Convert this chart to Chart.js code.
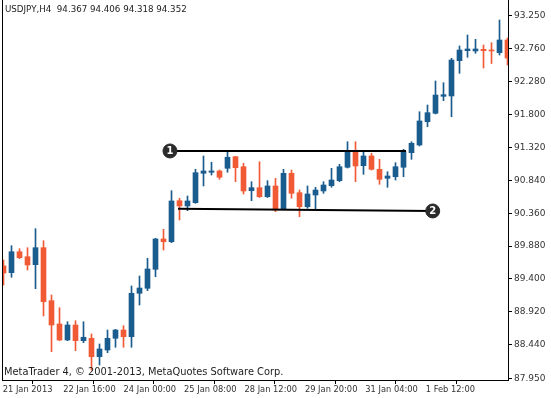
<!DOCTYPE html>
<html>
<head>
<meta charset="utf-8">
<title>USDJPY,H4</title>
<script src="https://cdn.jsdelivr.net/npm/chart.js@4.4.0/dist/chart.umd.min.js"></script>
<style>
  html, body { margin: 0; padding: 0; background: #fff; }
  #chart { display: block; }
</style>
</head>
<body>
<canvas id="chart" width="551" height="398"></canvas>
<script>
// H4 candles (one entry per bar, left to right)
const opens = [
  89.590, 89.492, 89.798, 89.725, 89.609, 89.857, 89.083, 88.743, 88.509, 88.728,
  88.499, 88.534, 88.265, 88.363, 88.534, 88.655, 88.557, 89.191, 89.264, 89.541,
  89.984, 89.944, 90.543, 90.466, 90.514, 90.943, 90.958, 90.977, 91.016, 91.185,
  91.039, 90.689, 90.733, 90.601, 90.758, 90.417, 90.943, 90.660, 90.455, 90.626,
  90.685, 90.762, 90.835, 91.031, 91.258, 91.054, 91.196, 91.001, 90.870, 90.893,
  91.031, 91.244, 91.356, 91.696, 91.819, 92.067, 92.072, 92.587, 92.733, 92.729,
  92.753, 92.743, 92.704, 92.889
]
const highs = [
  89.677, 89.886, 89.842, 89.857, 90.134, 89.959, 89.166, 88.981, 88.776, 88.791,
  88.776, 88.597, 88.451, 88.655, 88.665, 88.718, 89.298, 89.444, 89.702, 89.994,
  90.125, 90.689, 90.578, 90.612, 91.001, 91.196, 91.104, 90.991, 91.254, 91.190,
  91.089, 90.820, 91.112, 90.835, 90.870, 91.001, 90.991, 90.699, 90.758, 90.739,
  90.820, 91.016, 91.074, 91.404, 91.404, 91.258, 91.235, 91.147, 90.966, 91.098,
  91.293, 91.404, 91.842, 91.940, 92.291, 92.266, 92.622, 92.802, 92.962, 92.899,
  92.816, 92.850, 93.181, 92.918
]
const lows = [
  89.312, 89.425, 89.696, 89.531, 89.258, 88.860, 88.338, 88.499, 88.499, 88.353,
  88.470, 88.071, 88.144, 88.324, 88.403, 88.403, 88.403, 89.020, 89.229, 89.433,
  89.823, 89.930, 90.261, 90.397, 90.505, 90.758, 90.918, 90.855, 90.958, 90.820,
  90.641, 90.543, 90.590, 90.590, 90.382, 90.410, 90.578, 90.309, 90.432, 90.407,
  90.651, 90.739, 90.820, 91.020, 90.820, 90.928, 90.991, 90.782, 90.739, 90.845,
  90.893, 91.147, 91.342, 91.623, 91.809, 92.003, 91.769, 92.403, 92.637, 92.695,
  92.480, 92.546, 92.670, 92.524
]
const closes = [
  89.487, 89.798, 89.711, 89.604, 89.857, 89.068, 88.728, 88.509, 88.728, 88.499,
  88.549, 88.265, 88.378, 88.534, 88.655, 88.557, 89.191, 89.268, 89.546, 89.984,
  89.944, 90.539, 90.466, 90.539, 90.952, 90.977, 90.977, 90.885, 91.177, 91.025,
  90.685, 90.733, 90.601, 90.758, 90.407, 90.943, 90.651, 90.455, 90.641, 90.699,
  90.772, 90.845, 91.039, 91.258, 91.050, 91.196, 91.001, 90.855, 90.904, 91.039,
  91.258, 91.381, 91.707, 91.828, 92.086, 92.091, 92.597, 92.743, 92.758, 92.758,
  92.733, 92.729, 92.889, 92.626
]

const timeLabels = ["21 Jan 2013", "22 Jan 16:00", "24 Jan 00:00", "25 Jan 08:00",
  "28 Jan 12:00", "29 Jan 20:00", "31 Jan 04:00", "1 Feb 12:00"]
const priceTicks = [87.95, 88.44, 88.92, 89.40, 89.88, 90.36, 90.84, 91.32, 91.80, 92.28, 92.76, 93.25]

// the two hand drawn levels: [bar, price] at each end
const levelOne = [[20.81, 91.269], [50.31, 91.269]]
const levelTwo = [[21.81, 90.426], [53.65, 90.393]]

const headerText = "USDJPY,H4  94.367 94.406 94.318 94.352"
const footerText = "MetaTrader 4, \u00a9 2001-2013, MetaQuotes Software Corp."

const BULL = '#1b5c8f'
const BEAR = '#f05a35'
const FONT_FAMILY = '"DejaVu Sans", Tahoma, sans-serif'

function candleColors() {
  return opens.map((o, i) => closes[i] >= o ? BULL : BEAR)
}

function wickData() {
  return opens.map((o, i) => ({ x: i, y: [lows[i], highs[i]] }))
}

function bodyData() {
  return opens.map((o, i) => ({ x: i, y: [Math.min(o, closes[i]), Math.max(o, closes[i])] }))
}

function levelData(level) {
  return level.map(p => ({ x: p[0], y: p[1] }))
}

// header, footer, left frame edge and the level numbers
const overlayPlugin = {
  id: 'overlay',
  afterDraw(chart) {
    const ctx = chart.ctx
    const area = chart.chartArea
    ctx.save()

    ctx.strokeStyle = '#000'
    ctx.lineWidth = 1
    ctx.beginPath()
    ctx.moveTo(area.left + 0.5, 0)
    ctx.lineTo(area.left + 0.5, area.bottom)
    ctx.moveTo(area.right + 0.5, 0)
    ctx.lineTo(area.right + 0.5, area.top)
    ctx.stroke()

    ctx.fillStyle = '#222'
    ctx.textBaseline = 'middle'
    ctx.textAlign = 'left'
    ctx.font = '8.7px ' + FONT_FAMILY
    ctx.fillText(headerText, area.left + 3, area.top + 8)
    ctx.font = '9.85px ' + FONT_FAMILY
    ctx.fillText(footerText, area.left + 2, area.bottom - 8)

    // numbers inside the circles
    ctx.font = 'bold 10px ' + FONT_FAMILY
    ctx.fillStyle = '#fff'
    ctx.textAlign = 'center'
    const markers = [[2, 0, '1'], [3, 1, '2']]
    markers.forEach(m => {
      const pt = chart.getDatasetMeta(m[0]).data[m[1]]
      ctx.fillText(m[2], pt.x, pt.y + 0.5)
    })
    ctx.restore()
  }
}

const colors = candleColors()

const ctx = document.getElementById('chart')
new Chart(ctx, {
  type: 'bar',
  data: {
    datasets: [
      {
        label: 'bodies',
        data: bodyData(),
        backgroundColor: colors,
        barThickness: 5,
        minBarLength: 1,
        grouped: false,
        order: 1
      },
      {
        label: 'wicks',
        data: wickData(),
        backgroundColor: colors,
        barThickness: 1,
        grouped: false,
        order: 2
      },
      {
        type: 'line',
        label: 'level 1',
        data: levelData(levelOne),
        borderColor: '#000',
        borderWidth: 2,
        pointRadius: [7, 0],
        pointBackgroundColor: '#2b2b2b',
        pointBorderColor: '#2b2b2b',
        pointBorderWidth: 1,
        order: 0
      },
      {
        type: 'line',
        label: 'level 2',
        data: levelData(levelTwo),
        borderColor: '#000',
        borderWidth: 2,
        pointRadius: [0, 7],
        pointBackgroundColor: '#2b2b2b',
        pointBorderColor: '#2b2b2b',
        pointBorderWidth: 1,
        order: 0
      }
    ]
  },
  options: {
    responsive: false,
    animation: false,
    devicePixelRatio: 1,
    layout: {
      autoPadding: false,
      padding: { left: 2, top: 2, right: 0, bottom: 0 }
    },
    plugins: {
      legend: { display: false },
      tooltip: { enabled: false }
    },
    scales: {
      x: {
        type: 'linear',
        min: -0.1875,
        max: 63.0625,
        offset: false,
        afterBuildTicks: scale => {
          scale.ticks = timeLabels.map((t, k) => ({ value: -0.1 + k * 7.555 }))
        },
        afterFit: scale => {
          scale.height = 18
          scale.paddingLeft = 0
          scale.paddingRight = 0
        },
        ticks: {
          autoSkip: false,
          maxRotation: 0,
          align: 'start',
          padding: 1,
          color: '#333',
          font: { family: FONT_FAMILY, size: 8.3 },
          callback: (value, index) => timeLabels[index]
        },
        grid: {
          drawOnChartArea: false,
          drawTicks: true,
          tickLength: 4,
          color: '#000'
        },
        border: { display: true, color: '#000', width: 1 }
      },
      y: {
        position: 'right',
        min: 87.925,
        max: 93.444,
        afterBuildTicks: scale => {
          scale.ticks = priceTicks.map(v => ({ value: v }))
        },
        afterFit: scale => {
          scale.width = 43
          scale.paddingTop = 0
          scale.paddingBottom = 0
        },
        ticks: {
          autoSkip: false,
          padding: 2,
          color: '#333',
          font: { family: FONT_FAMILY, size: 9 },
          callback: value => value.toFixed(3)
        },
        grid: {
          drawOnChartArea: false,
          drawTicks: true,
          tickLength: 4,
          color: '#000'
        },
        border: { display: true, color: '#000', width: 1 }
      }
    }
  },
  plugins: [overlayPlugin]
})
</script>
</body>
</html>
